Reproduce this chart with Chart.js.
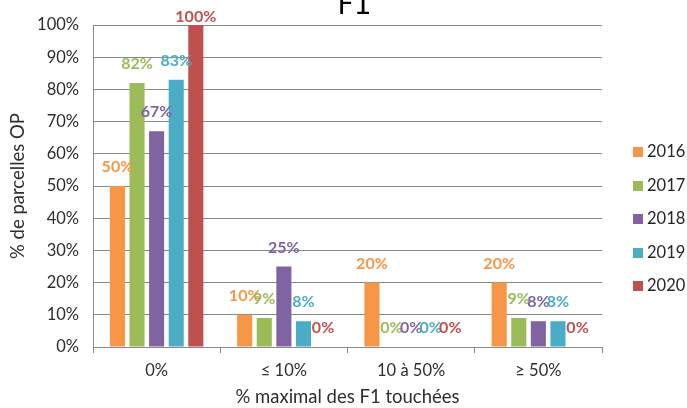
<!DOCTYPE html>
<html lang="fr">
<head>
<meta charset="utf-8">
<title>F1</title>
<script src="https://cdn.jsdelivr.net/npm/chart.js@4/dist/chart.umd.min.js"></script>
<style>
  body { margin: 0; background: #fff; }
  #cadre { position: relative; width: 687px; height: 408px; overflow: hidden; }
  #legende { position: absolute; left: 633px; top: 141px; font: 16.5px Lato, sans-serif; color: #262626; }
  #legende div { height: 33.5px; display: flex; align-items: flex-start; }
  #legende span.carre { width: 10px; height: 10px; margin: 6px 4px 0 0; display: inline-block; }
</style>
</head>
<body>
<div id="cadre">
  <canvas id="graphiqueF1"></canvas>
  <div id="legende"></div>
</div>
<script>
// Classes de F1 touchées
const categories = ["0%", "≤ 10%", "10 à 50%", "≥ 50%"];
const annees = ["2016", "2017", "2018", "2019", "2020"];
const couleurs = ["#F79646", "#9BBB59", "#8064A2", "#4BACC6", "#C0504D"];

// % de parcelles par année
const val2016 = [50, 10, 20, 20];
const val2017 = [82, 9, 0, 9];
const val2018 = [67, 25, 0, 8];
const val2019 = [83, 8, 0, 8];
const val2020 = [100, 0, 0, 0];

const seriesValeurs = [val2016, val2017, val2018, val2019, val2020];
const ticksY = [0, 10, 20, 30, 40, 50, 60, 70, 80, 90, 100];

const couleurGrille = "#8a8a8a";
const couleurTexte = "#2e2e2e";

// Étiquettes de valeur au-dessus des barres
const etiquettesValeurs = {
  id: "etiquettesValeurs",
  afterDatasetsDraw(chart) {
    const ctx = chart.ctx;
    const haut = chart.chartArea.top;
    ctx.save();
    ctx.font = "bold 16px Lato";
    ctx.textAlign = "center";
    ctx.textBaseline = "middle";
    chart.data.datasets.forEach((ds, i) => {
      chart.getDatasetMeta(i).data.forEach((barre, j) => {
        ctx.fillStyle = ds.backgroundColor;
        const y = Math.max(barre.y - 19, haut - 8);
        ctx.fillText(ds.data[j] + "%", barre.x, y);
      });
    });
    ctx.restore();
  }
};

// Titre "F1" collé en haut
const titreF1 = {
  id: "titreF1",
  afterDraw(chart) {
    const ctx = chart.ctx;
    const a = chart.chartArea;
    ctx.save();
    ctx.font = "28px 'DejaVu Sans'";
    ctx.fillStyle = "#000";
    ctx.textAlign = "center";
    ctx.textBaseline = "alphabetic";
    ctx.fillText("F1", (a.left + a.right) / 2 + 7, 14);
    ctx.restore();
  }
};

const ctx = document.getElementById("graphiqueF1").getContext("2d");
const graphique = new Chart(ctx, {
  type: "bar",
  data: {
    labels: categories,
    datasets: annees.map((an, i) => ({
      label: an,
      data: seriesValeurs[i],
      backgroundColor: couleurs[i],
      categoryPercentage: 0.77,
      barPercentage: 0.77
    }))
  },
  options: {
    responsive: true,
    maintainAspectRatio: false,
    animation: false,
    layout: { padding: { left: 0, right: 85, top: 25, bottom: 0 } },
    plugins: {
      legend: { display: false },
      tooltip: { enabled: false }
    },
    scales: {
      x: {
        afterFit: scale => { scale.height = 61; },
        grid: {
          offset: true,
          drawOnChartArea: false,
          drawTicks: true,
          tickLength: 6,
          color: couleurGrille
        },
        border: { color: couleurGrille, width: 1 },
        ticks: { color: couleurTexte, font: { family: "Lato", size: 16.5 }, padding: 8 },
        title: {
          display: true,
          text: "% maximal des F1 touchées",
          color: couleurTexte,
          font: { family: "Lato", size: 18.5 },
          padding: { top: 0, bottom: 0 }
        }
      },
      y: {
        min: 0,
        max: 100,
        afterFit: scale => { scale.width = 93; },
        afterBuildTicks: scale => { scale.ticks = ticksY.map(v => ({ value: v })); },
        grid: { drawTicks: false, color: couleurGrille, lineWidth: 1 },
        border: { color: couleurGrille, width: 1 },
        ticks: {
          color: couleurTexte,
          font: { family: "Lato", size: 16.5 },
          padding: 14,
          callback: v => v + "%"
        },
        title: {
          display: true,
          text: "% de parcelles OP",
          color: couleurTexte,
          font: { family: "Lato", size: 18.5 },
          padding: { top: 7, bottom: 0 }
        }
      }
    }
  },
  plugins: [etiquettesValeurs, titreF1]
});

// Légende à droite
const legende = document.getElementById("legende");
graphique.data.datasets.forEach(ds => {
  const ligne = document.createElement("div");
  ligne.innerHTML = `<span class="carre" style="background:${ds.backgroundColor}"></span>${ds.label}`;
  legende.appendChild(ligne);
});
</script>
</body>
</html>
